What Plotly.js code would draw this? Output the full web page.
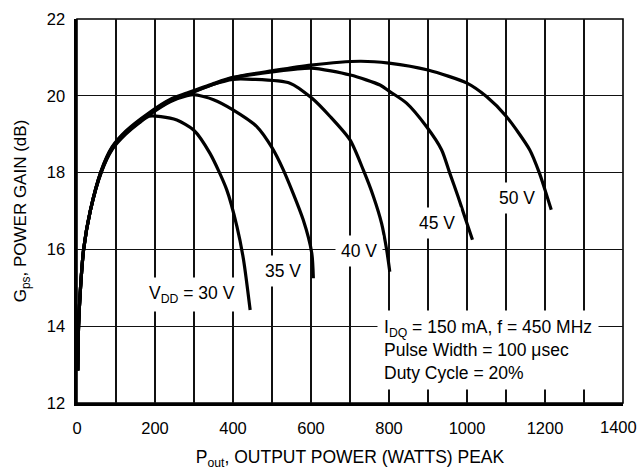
<!DOCTYPE html>
<html>
<head>
<meta charset="utf-8">
<script src="https://cdn.plot.ly/plotly-3.0.1.min.js"></script>
<style>html,body{margin:0;padding:0;background:#fff;}#chart{width:639px;height:470px;}</style>
</head>
<body>
<div id="chart"></div>
<script>
// Output power (W) and gain (dB) per supply voltage
const p30 = [2, 4, 9, 17, 34, 62, 90, 125, 160, 185, 215, 256, 299, 341, 384, 410, 427, 444];
const g30 = [12.85, 14.0, 15.0, 16.0, 17.0, 18.0, 18.6, 19.0, 19.3, 19.47, 19.46, 19.37, 19.11, 18.5, 17.55, 16.6, 15.73, 14.42];

const p35 = [2, 4, 9, 17, 34, 62, 90, 125, 185, 240, 282, 300, 350, 401, 461, 500, 529, 580, 602, 606];
const g35 = [12.85, 14.0, 15.0, 16.0, 17.0, 18.02, 18.62, 19.02, 19.5, 19.85, 20.0, 20.03, 19.9, 19.63, 19.2, 18.65, 18.07, 16.77, 15.9, 15.25];

const p40 = [2, 4, 9, 17, 34, 62, 90, 125, 185, 240, 282, 350, 400, 450, 546, 602, 649, 700, 734, 760, 781, 794, 802];
const g40 = [12.85, 14.0, 15.0, 16.0, 17.0, 18.02, 18.63, 19.04, 19.52, 19.87, 20.03, 20.3, 20.43, 20.43, 20.33, 19.94, 19.46, 18.85, 18.07, 17.38, 16.68, 15.99, 15.42];

const p45 = [2, 4, 9, 17, 34, 62, 90, 125, 185, 240, 282, 350, 400, 500, 600, 701, 777, 802, 845, 896, 935, 956, 977, 994, 1014];
const g45 = [12.85, 14.0, 15.0, 16.0, 17.0, 18.04, 18.65, 19.06, 19.54, 19.89, 20.05, 20.3, 20.47, 20.62, 20.72, 20.54, 20.28, 20.11, 19.81, 19.2, 18.59, 17.98, 17.38, 16.86, 16.25];

const p50 = [2, 4, 9, 17, 34, 62, 90, 125, 185, 240, 282, 350, 400, 500, 600, 726, 800, 900, 1000, 1050, 1101, 1161, 1186, 1200, 1216];
const g50 = [12.85, 14.0, 15.0, 16.0, 17.0, 18.05, 18.67, 19.08, 19.56, 19.91, 20.07, 20.32, 20.48, 20.65, 20.8, 20.9, 20.85, 20.67, 20.33, 19.98, 19.46, 18.59, 17.98, 17.55, 17.03];

const xTickVals = [0, 200, 400, 600, 800, 1000, 1200, 1400];
const xTickText = ["0", "200", "400", "600", "800", "1000", "1200", ""];
const xLastTick = 1400; // drawn as a nudged label so it stays inside the page

const curveLabels = ["V<sub>DD</sub> = 30 V", "35 V", "40 V", "45 V", "50 V"];
const labelX = [294, 527, 723, 924, 1127];
const labelY = [14.82, 15.44, 15.96, 16.7, 17.34];

const noteText = "I<sub>DQ</sub> = 150 mA, f = 450 MHz<br>Pulse Width = 100 \u03bcsec<br>Duty Cycle = 20%";
const noteX = 768, noteY = 13.39;

const xTitle = "P<sub>out</sub>, OUTPUT POWER (WATTS) PEAK";
const yTitle = "G<sub>ps</sub>, POWER GAIN (dB)";

const FONT = "'Liberation Sans', Arial, Helvetica, sans-serif";
const series = [[p30, g30], [p35, g35], [p40, g40], [p45, g45], [p50, g50]];
const traces = series.map(s => ({
  x: s[0], y: s[1], type: 'scatter', mode: 'lines',
  line: {color: '#000', width: 3.2, shape: 'spline', smoothing: 0.7},
  hoverinfo: 'skip', showlegend: false
}));

const annotations = curveLabels.map((t, i) => ({
  x: labelX[i], y: labelY[i], xref: 'x', yref: 'y', text: t, showarrow: false,
  font: {family: FONT, size: 17.5, color: '#000'}, bgcolor: '#fff', borderpad: 5
}));
annotations.push({
  x: noteX, y: noteY, xref: 'x', yref: 'y', text: noteText, showarrow: false,
  xanchor: 'left', yanchor: 'middle', align: 'left',
  font: {family: FONT, size: 17.5, color: '#000'}, bgcolor: '#fff', borderpad: 6
});
annotations.push({
  x: xLastTick, y: 0, xref: 'x', yref: 'paper', text: String(xLastTick), showarrow: false,
  xanchor: 'center', yanchor: 'middle', xshift: -5, yshift: -24,
  font: {family: FONT, size: 16.5, color: '#000'}, borderpad: 0
});

const layout = {
  width: 639, height: 470,
  margin: {l: 77, r: 16, t: 19, b: 67},
  paper_bgcolor: '#fff', plot_bgcolor: '#fff',
  font: {family: FONT, size: 17, color: '#000'},
  showlegend: false,
  xaxis: {
    range: [0, 1400], tickmode: 'array', tickvals: xTickVals, ticktext: xTickText,
    ticks: '', showgrid: true,
    gridcolor: '#111', gridwidth: 1.3, zeroline: false,
    showline: true, linecolor: '#000', linewidth: 2.6, mirror: false,
    minor: {dtick: 100, tick0: 0, showgrid: true, gridcolor: '#111', gridwidth: 1.3, ticks: ''},
    ticklabelstandoff: 9,
    tickfont: {family: FONT, size: 16.5},
    title: {text: xTitle, font: {family: FONT, size: 17.5}, standoff: 24},
    fixedrange: true
  },
  yaxis: {
    range: [12, 22], dtick: 2, tick0: 12, ticks: '', showgrid: true,
    gridcolor: '#111', gridwidth: 1.3, zeroline: false,
    showline: true, linecolor: '#000', linewidth: 2.6, mirror: false,
    ticklabelstandoff: 6,
    tickfont: {family: FONT, size: 16.5},
    title: {text: yTitle, font: {family: FONT, size: 17}, standoff: 16},
    fixedrange: true
  },
  shapes: [{type: 'rect', xref: 'paper', yref: 'paper', x0: 0, x1: 1, y0: 0, y1: 1,
            line: {color: '#000', width: 1.6}, layer: 'between'}],
  annotations: annotations
};

Plotly.newPlot('chart', traces, layout, {staticPlot: true, displayModeBar: false});
</script>
</body>
</html>
